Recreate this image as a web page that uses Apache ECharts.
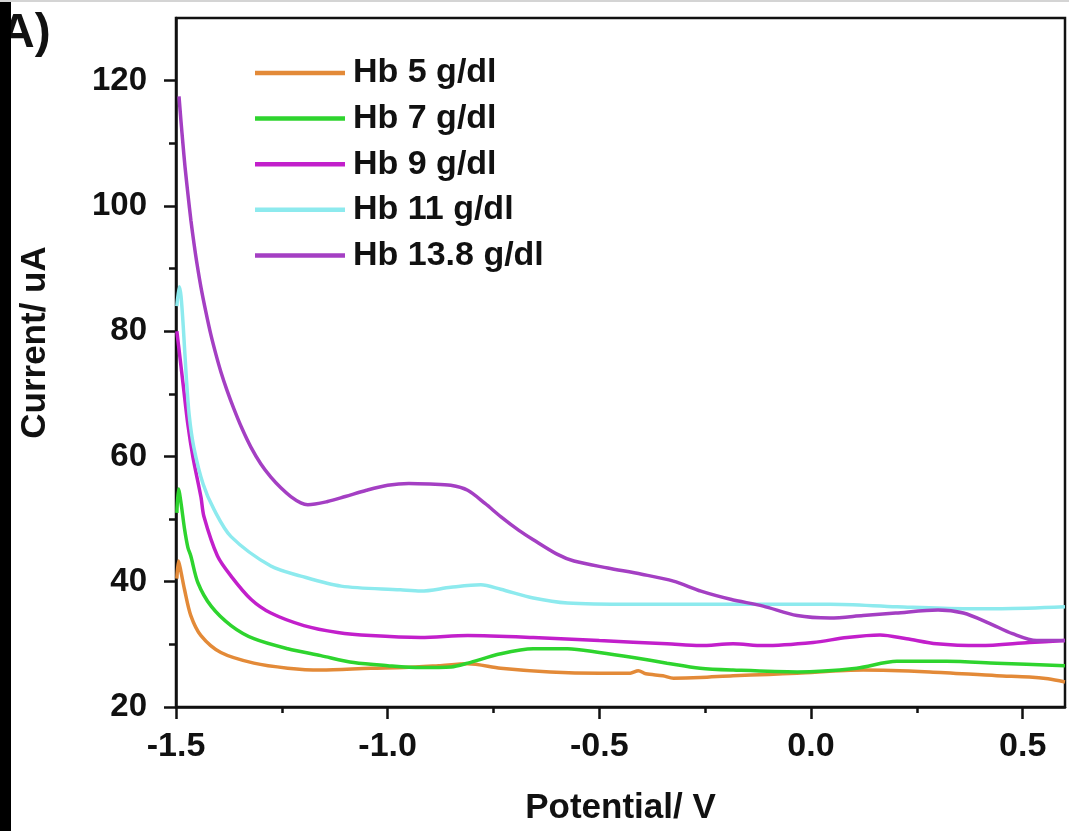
<!DOCTYPE html>
<html>
<head>
<meta charset="utf-8">
<script src="https://cdn.jsdelivr.net/npm/echarts@6/dist/echarts.min.js"></script>
<style>
html,body{margin:0;padding:0;background:#fff;}
#chart{width:1069px;height:831px;}
</style>
</head>
<body>
<div id="chart"></div>
<script>
// ---- data ----
const seriesNames = ['Hb 5 g/dl', 'Hb 7 g/dl', 'Hb 9 g/dl', 'Hb 11 g/dl', 'Hb 13.8 g/dl'];
const seriesColors = ['#E38A38', '#2ED42E', '#C21FCB', '#8DEAEE', '#A43FC3'];

const hb5 = [[-1.498, 40.5], [-1.494, 43.3], [-1.488, 41.5], [-1.48, 38.8], [-1.465, 34.6], [-1.441, 31.4],
  [-1.394, 28.7], [-1.316, 27.0], [-1.236, 26.2], [-1.158, 25.9], [-1.04, 26.2], [-0.962, 26.3], [-0.88, 26.6],
  [-0.811, 26.9], [-0.733, 26.2], [-0.616, 25.6], [-0.5, 25.4], [-0.427, 25.4], [-0.408, 25.8], [-0.39, 25.3],
  [-0.35, 25.0], [-0.325, 24.6], [-0.262, 24.7], [-0.184, 25.0], [-0.1, 25.2], [-0.033, 25.4], [0.123, 25.9],
  [0.281, 25.6], [0.439, 25.0], [0.516, 24.8], [0.56, 24.5], [0.6, 24.0]];

const hb7 = [[-1.498, 51.0], [-1.494, 54.8], [-1.488, 52.5], [-1.48, 48.5], [-1.472, 45.5], [-1.465, 44.1],
  [-1.448, 39.8], [-1.417, 36.1], [-1.37, 33.0], [-1.316, 30.9], [-1.236, 29.3], [-1.158, 28.2], [-1.08, 27.1],
  [-1.0, 26.6], [-0.922, 26.3], [-0.85, 26.4], [-0.811, 27.0], [-0.733, 28.5], [-0.656, 29.3], [-0.575, 29.3],
  [-0.5, 28.7], [-0.42, 27.9], [-0.34, 27.0], [-0.262, 26.2], [-0.184, 25.9], [-0.033, 25.6], [0.108, 26.2],
  [0.203, 27.3], [0.32, 27.3], [0.439, 27.0], [0.6, 26.6]];

const hb9 = [[-1.498, 80.0], [-1.491, 76.0], [-1.483, 71.4], [-1.472, 65.1], [-1.46, 59.9], [-1.441, 53.5],
  [-1.434, 50.4], [-1.402, 44.1], [-1.37, 40.9], [-1.323, 37.2], [-1.276, 35.0], [-1.198, 33.0], [-1.118, 31.9],
  [-1.04, 31.4], [-0.922, 31.1], [-0.811, 31.4], [-0.656, 31.1], [-0.5, 30.6], [-0.34, 30.1], [-0.262, 29.8],
  [-0.184, 30.1], [-0.113, 29.8], [0.005, 30.3], [0.085, 31.1], [0.163, 31.5], [0.226, 30.9], [0.297, 30.1],
  [0.399, 29.8], [0.516, 30.3], [0.6, 30.6]];

const hb11 = [[-1.498, 84.0], [-1.492, 87.1], [-1.488, 85.5], [-1.483, 80.9], [-1.476, 73.0], [-1.469, 66.7],
  [-1.458, 61.5], [-1.436, 55.6], [-1.41, 51.5], [-1.37, 47.2], [-1.276, 42.5], [-1.205, 40.9], [-1.11, 39.3],
  [-0.97, 38.7], [-0.922, 38.5], [-0.851, 39.1], [-0.78, 39.5], [-0.733, 38.8], [-0.656, 37.4], [-0.575, 36.6],
  [-0.42, 36.4], [-0.184, 36.4], [0.045, 36.4], [0.203, 36.0], [0.36, 35.7], [0.45, 35.7], [0.6, 36.0]];

const hb138 = [[-1.4929, 117.5], [-1.4882, 113.5], [-1.4835, 109.8], [-1.4788, 106.3], [-1.4717, 101.8],
  [-1.4646, 97.6], [-1.4575, 94.0], [-1.4505, 90.8], [-1.441, 87.0], [-1.4292, 83.0], [-1.4175, 79.4],
  [-1.4057, 76.3], [-1.3939, 73.5], [-1.3797, 70.6], [-1.3632, 67.6], [-1.3443, 64.5], [-1.3231, 61.5],
  [-1.2995, 58.8], [-1.2759, 56.7], [-1.2524, 55.0], [-1.2288, 53.6], [-1.2052, 52.6], [-1.1887, 52.3],
  [-1.142, 52.8], [-1.1, 53.6], [-1.05, 54.6], [-1.0, 55.4], [-0.95, 55.7], [-0.9, 55.6], [-0.851, 55.4],
  [-0.811, 54.6], [-0.77, 52.5], [-0.733, 50.4], [-0.69, 48.2], [-0.656, 46.7], [-0.6, 44.4], [-0.56, 43.3],
  [-0.48, 42.2], [-0.4, 41.2], [-0.325, 40.1], [-0.26, 38.5], [-0.19, 37.2], [-0.113, 36.1], [-0.033, 34.6],
  [0.045, 34.2], [0.123, 34.6], [0.2, 35.0], [0.3, 35.5], [0.36, 35.0], [0.42, 33.4], [0.476, 31.7],
  [0.533, 30.6], [0.6, 30.6]];

const seriesData = [hb5, hb7, hb9, hb11, hb138];

const xMajorTicks = [-1.5, -1.0, -0.5, 0.0, 0.5];
const xMinorTicks = [-1.25, -0.75, -0.25, 0.25];
const yMajorTicks = [20, 40, 60, 80, 100, 120];
const yMinorTicks = [30, 50, 70, 90, 110];
const xRange = [-1.5, 0.6];
const yRange = [20, 130];

const xTitle = 'Potential/ V';
const yTitle = 'Current/ uA';
const panelLabel = 'A)';

// ---- chart ----
const FONT = '"Liberation Sans", Arial, Helvetica, sans-serif';
const chart = echarts.init(document.getElementById('chart'), null, {renderer: 'canvas'});

const axisLineStyle = {color: '#111', width: 2.5};

const option = {
  animation: false,
  backgroundColor: '#ffffff',
  grid: {
    left: 176, right: 4, top: 18, bottom: 119,
    show: true, borderColor: '#111', borderWidth: 2.5, backgroundColor: 'transparent'
  },
  legend: {
    data: seriesNames,
    orient: 'vertical',
    icon: 'rect',
    padding: 0,
    left: 255, top: 56,
    itemWidth: 90, itemHeight: 4.5, itemGap: 11.6,
    textStyle: {fontFamily: FONT, fontWeight: 'bold', fontSize: 34, lineHeight: 34, color: '#111', padding: [0, 0, 0, 3]}
  },
  xAxis: [{
    type: 'value', min: xRange[0], max: xRange[1],
    position: 'bottom',
    name: xTitle, nameLocation: 'middle', nameGap: 84,
    nameTextStyle: {fontFamily: FONT, fontWeight: 'bold', fontSize: 35, color: '#111'},
    axisLine: {show: true, onZero: false, lineStyle: axisLineStyle},
    axisTick: {show: true, inside: false, length: 12, lineStyle: {color: '#111', width: 2.5}, customValues: xMajorTicks},
    axisLabel: {show: true, margin: 23, fontFamily: FONT, fontWeight: 'bold', fontSize: 34, color: '#111',
      customValues: xMajorTicks, formatter: v => v.toFixed(1)},
    splitLine: {show: false}
  }, {
    type: 'value', min: xRange[0], max: xRange[1],
    position: 'bottom', offset: 0,
    axisLine: {show: false, onZero: false},
    axisTick: {show: true, inside: false, length: 6, lineStyle: {color: '#111', width: 2.5}, customValues: xMinorTicks},
    axisLabel: {show: false},
    splitLine: {show: false}
  }],
  yAxis: [{
    type: 'value', min: yRange[0], max: yRange[1],
    position: 'left',
    name: yTitle, nameLocation: 'middle', nameGap: 123, nameRotate: 90,
    nameTextStyle: {fontFamily: FONT, fontWeight: 'bold', fontSize: 35, color: '#111', padding: [0, 0, 0, 40]},
    axisLine: {show: true, onZero: false, lineStyle: axisLineStyle},
    axisTick: {show: true, inside: false, length: 12, lineStyle: {color: '#111', width: 2.5}, customValues: yMajorTicks},
    axisLabel: {show: true, margin: 29, fontFamily: FONT, fontWeight: 'bold', fontSize: 33, color: '#111',
      customValues: yMajorTicks},
    splitLine: {show: false}
  }, {
    type: 'value', min: yRange[0], max: yRange[1],
    position: 'left', offset: 0,
    axisLine: {show: false, onZero: false},
    axisTick: {show: true, inside: false, length: 7, lineStyle: {color: '#111', width: 2.5}, customValues: yMinorTicks},
    axisLabel: {show: false},
    splitLine: {show: false}
  }],
  series: seriesNames.map((name, i) => ({
    name: name,
    type: 'line',
    xAxisIndex: 0, yAxisIndex: 0,
    data: seriesData[i],
    symbol: 'none', showSymbol: false,
    smooth: 0.3,
    color: seriesColors[i],
    itemStyle: {color: seriesColors[i]},
    lineStyle: {color: seriesColors[i], width: 3.5}
  })),
  graphic: [
    {type: 'text', left: 0, top: 10, z: 10,
      style: {text: panelLabel, font: 'bold 48px ' + FONT, fill: '#111'}},
    {type: 'rect', shape: {x: 0, y: 0, width: 11, height: 831}, style: {fill: '#000'}, z: 20},
    {type: 'rect', shape: {x: 0, y: 0, width: 1069, height: 2}, style: {fill: '#d4d4d4'}, z: 20}
  ]
};
chart.setOption(option);
</script>
</body>
</html>
